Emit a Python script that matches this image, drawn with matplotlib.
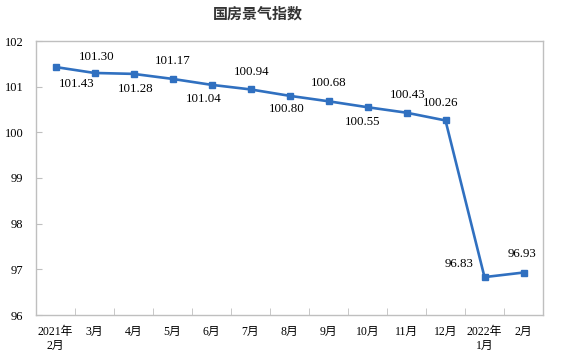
import matplotlib
matplotlib.use("Agg")
import matplotlib.pyplot as plt

months = ["2021年\n2月", "3月", "4月", "5月", "6月", "7月", "8月", "9月",
          "10月", "11月", "12月", "2022年\n1月", "2月"]
values = [101.43, 101.30, 101.28, 101.17, 101.04, 100.94, 100.80, 100.68,
          100.55, 100.43, 100.26, 96.83, 96.93]
# label offsets in pixels (dx, dy)
offsets = [(21, -17), (2, 16), (2, -15), (0, 18), (-8, -14), (1, 17), (-3, -13),
           (0, 18), (-5, -15), (1, 18), (-5, 17), (-25, 13), (-1, 19)]

serif_cjk = ["Liberation Serif", "Noto Sans CJK SC"]

fig = plt.figure(figsize=(5.65, 3.54), dpi=100)
ax = fig.add_axes([36 / 565, 1 - 315 / 354, 507 / 565, 274 / 354])

x = list(range(len(values)))
ax.plot(x, values, color="#3070C0", linewidth=1.9, marker="s", markersize=4.5)

for xi, v, (dx, dy) in zip(x, values, offsets):
    ax.annotate(f"{v:.2f}", (xi, v), xytext=(dx, dy), textcoords="offset pixels",
                ha="center", va="center", fontsize=9.3, family=serif_cjk, color="black")

ax.set_xlim(-0.5, len(values) - 0.5)
ax.set_ylim(96, 102)
ax.set_yticks(range(96, 103))
ax.set_yticklabels([str(t) for t in range(96, 103)], family=serif_cjk, fontsize=9)

ax.set_xticks(x)
ax.set_xticklabels(months, family=serif_cjk, fontsize=8.5, linespacing=1.2)
ax.set_xticks([i - 0.5 for i in range(len(values) + 1)], minor=True)
ax.tick_params(axis="x", which="major", length=0, pad=8)
ax.tick_params(axis="x", which="minor", direction="in", length=5, color="#BFBFBF")
ax.tick_params(axis="y", direction="in", length=4, color="#BFBFBF", pad=9)

for s in ax.spines.values():
    s.set_color("#BFBFBF")
    s.set_linewidth(1.0)

fig.text(258 / 565, 1 - 14 / 354, "国房景气指数", ha="center", va="center",
         fontsize=10.8, fontweight="bold", family=["Noto Sans CJK SC"], color="#333333")

fig.savefig("out.png", dpi=100)
